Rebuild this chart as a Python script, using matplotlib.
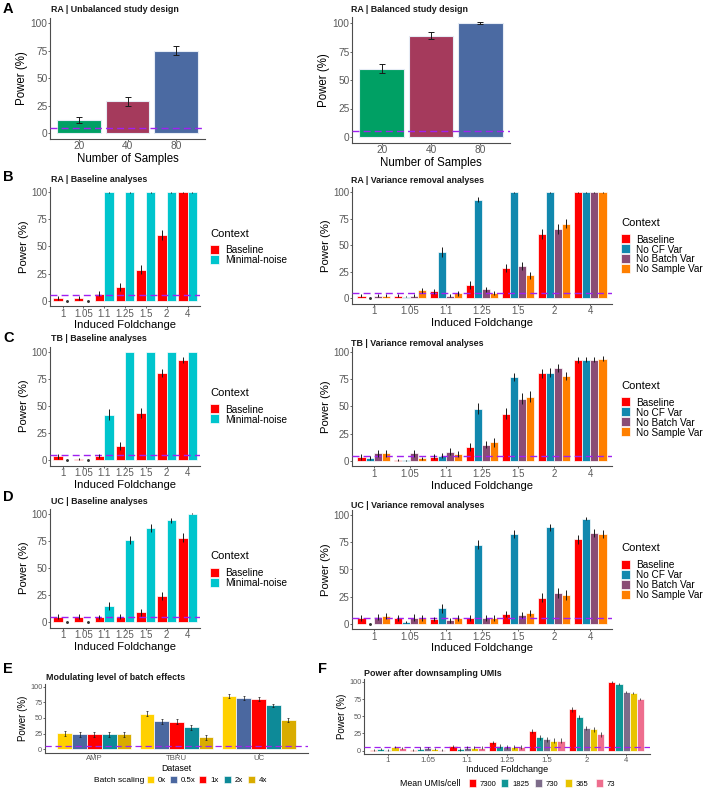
import numpy as np
import matplotlib
matplotlib.use('Agg')
import matplotlib.pyplot as plt
from matplotlib.patches import Rectangle

plt.rcParams['font.family'] = ['Liberation Sans', 'DejaVu Sans']

# ---- data ----
sample_sizes = ['20', '40', '80']
ra_unbalanced = [12, 29, 75]
ra_unbalanced_err = [3, 4, 4]
ra_balanced = [60, 89, 100]
ra_balanced_err = [4, 3, 0.5]
sample_colors = ['#00A064', '#A53A5C', '#4B6AA2']

foldchanges = ['1', '1.05', '1.1', '1.25', '1.5', '2', '4']

ra_baseline = [2.5, 2.5, 6.5, 12.5, 28.5, 60.5, 100]
ra_baseline_err = [1.5, 1.5, 2.5, 3.5, 4, 4.5, 0.3]
ra_minimal = [0, 0, 100, 100, 100, 100, 100]
ra_minimal_err = [0, 0, 0.3, 0.3, 0.3, 0.3, 0.3]
ra_nocf = [0, 1.5, 43.5, 93, 100, 100, 100]
ra_nocf_err = [0, 0.5, 4.5, 2.5, 0.3, 0.3, 0.3]
ra_nobatch = [2.5, 2.5, 2.5, 8.5, 30.5, 65.5, 100]
ra_nobatch_err = [1.5, 1.5, 1.5, 2.5, 4, 4.5, 0.3]
ra_nosample = [2.5, 7.5, 4.5, 5, 21.5, 70.5, 100]
ra_nosample_err = [1.5, 2.5, 2, 2, 3.5, 4, 0.3]

tb_baseline = [3.5, 1, 4, 13, 43.5, 80.5, 92.5]
tb_baseline_err = [2.5, 1, 2, 3.5, 5, 4, 2.5]
tb_minimal = [0, 0, 42, 100, 100, 100, 100]
tb_minimal_err = [0, 0, 5, 0.3, 0.3, 0.3, 0.3]
tb_nocf = [3, 0.5, 5, 48, 77, 81, 93]
tb_nocf_err = [2, 0.5, 2, 5, 4, 4, 2.5]
tb_nobatch = [7, 7, 8.5, 15, 57, 85.5, 93]
tb_nobatch_err = [3, 3, 3, 3.5, 5, 3.5, 2.5]
tb_nosample = [7, 2.5, 6.5, 17, 59, 78, 94]
tb_nosample_err = [3, 1.5, 3, 4, 5, 4, 2.5]

uc_baseline = [5, 5, 4.5, 5, 9, 24, 78]
uc_baseline_err = [2.5, 2.5, 2, 2.5, 3, 4, 4]
uc_minimal = [0, 0, 15, 76, 87, 94, 100]
uc_minimal_err = [0, 0, 4, 4, 3.5, 2, 0.5]
uc_nocf = [0, 1.5, 14, 73, 83, 89, 97]
uc_nocf_err = [0, 1, 4, 4, 3.5, 3, 1.5]
uc_nobatch = [6, 5.5, 3, 5, 8, 28.5, 84]
uc_nobatch_err = [3, 3, 2, 3, 3, 4.5, 3.5]
uc_nosample = [7, 5, 5, 5, 10, 26.5, 83]
uc_nosample_err = [3, 2.5, 2.5, 3, 3, 4.5, 3.5]

base_contexts = ['Baseline', 'Minimal-noise']
base_colors = ['#FF0000', '#00C5CD']
var_contexts = ['Baseline', 'No CF Var', 'No Batch Var', 'No Sample Var']
var_colors = ['#FF0000', '#1188AE', '#8A4C75', '#FF7F00']

datasets = ['AMP', 'TBRU', 'UC']
batch_scales = ['0x', '0.5x', '1x', '2x', '4x']
batch_colors = ['#FFD000', '#4B68A0', '#FF0000', '#0D8A98', '#D9AC00']
power_0x = [26, 57, 85]
power_05x = [24, 45, 82]
power_1x = [24, 44, 80]
power_2x = [24, 35, 70]
power_4x = [24, 19, 47]
batch_err = [4, 4, 3]

umi_levels = ['7300', '1825', '730', '365', '73']
umi_colors = ['#FF0000', '#109696', '#7D6C8A', '#E8C400', '#EE6E8E']
umi_7300 = [1.5, 1.5, 6, 12, 28.5, 60, 100]
umi_1825 = [2.5, 3, 2, 6.5, 19.5, 49, 97]
umi_730 = [1, 4, 4, 5, 16.5, 33, 86]
umi_365 = [5, 2.5, 4, 5, 14.5, 31, 84]
umi_73 = [4, 1.5, 4, 5, 14.5, 23.5, 75]
umi_err = [1.5, 1.5, 2, 2.5, 3.5, 3.5, 1.5]

W, H = 705, 788
fig = plt.figure(figsize=(W / 100, H / 100), dpi=100)
fig.patch.set_facecolor('white')

PURPLE = '#A020F0'
TICK_COL = '#5A5A5A'


def add_ax(x0, y0, x1, y1):
    return fig.add_axes([x0 / W, 1 - y1 / H, (x1 - x0) / W, (y1 - y0) / H])


def bars(ax, cats, series, errs, colors, width=0.9, capsize=0, elw=0.7):
    x = np.arange(len(cats))
    n = len(series)
    w = width / n
    for i in range(n):
        pos = x - width / 2 + w * (i + 0.5)
        vals = np.asarray(series[i], dtype=float)
        ax.bar(pos, vals, w, color=colors[i], edgecolor='white', linewidth=0.5, zorder=2)
        ax.errorbar(pos, vals, yerr=errs[i], fmt='none', ecolor='#1A1A1A',
                    elinewidth=elw, capsize=capsize, capthick=elw, zorder=4)
        zero = vals == 0
        if zero.any():
            ax.plot(pos[zero], vals[zero], 'o', ms=1.1, color='#333333', zorder=4)
    ax.set_xticks(x)
    ax.set_xticklabels(cats)
    ax.set_xlim(-0.6, len(cats) - 0.4)


def style(ax, xlabel, tick_fs=7, lab_fs=8, lw=1.0):
    for s in ['top', 'right']:
        ax.spines[s].set_visible(False)
    for s in ['left', 'bottom']:
        ax.spines[s].set_color('#4D4D4D')
        ax.spines[s].set_linewidth(0.8)
    ax.set_ylim(-5, 105)
    ax.set_yticks([0, 25, 50, 75, 100])
    ax.tick_params(colors='#4D4D4D', labelcolor=TICK_COL, length=1.5, width=0.6,
                   pad=0.4, labelsize=tick_fs)
    ax.axhline(5, color=PURPLE, lw=lw, ls=(0, (5, 3)), zorder=3)
    ax.set_ylabel('Power (%)', fontsize=lab_fs, labelpad=1.5)
    ax.set_xlabel(xlabel, fontsize=lab_fs, labelpad=1)


# ---- A ----
axA1 = add_ax(50, 17.5, 205, 138.5)
axA1.bar(np.arange(3), ra_unbalanced, 0.9, color=sample_colors, edgecolor='#E6ECF5', linewidth=0.8, zorder=2)
axA1.errorbar(np.arange(3), ra_unbalanced, yerr=ra_unbalanced_err, fmt='none', ecolor='#1A1A1A',
              elinewidth=0.7, capsize=2, capthick=0.7, zorder=4)
axA1.set_xticks(np.arange(3))
axA1.set_xticklabels(sample_sizes)
axA1.set_xlim(-0.6, 2.6)
style(axA1, 'Number of Samples', tick_fs=7.3, lab_fs=8.3)

axA2 = add_ax(352, 17.3, 510, 142.7)
axA2.bar(np.arange(3), ra_balanced, 0.9, color=sample_colors, edgecolor='#E6ECF5', linewidth=0.8, zorder=2)
axA2.errorbar(np.arange(3), ra_balanced, yerr=ra_balanced_err, fmt='none', ecolor='#1A1A1A',
              elinewidth=0.7, capsize=2, capthick=0.7, zorder=4)
axA2.set_xticks(np.arange(3))
axA2.set_xticklabels(sample_sizes)
axA2.set_xlim(-0.6, 2.6)
style(axA2, 'Number of Samples', tick_fs=7.3, lab_fs=8.3)

# ---- B / C / D ----
rows = [
    ((187, 306), (187, 303.5),
     [ra_baseline, ra_minimal], [ra_baseline_err, ra_minimal_err],
     [ra_baseline, ra_nocf, ra_nobatch, ra_nosample],
     [ra_baseline_err, ra_nocf_err, ra_nobatch_err, ra_nosample_err]),
    ((346.5, 465.5), (346.5, 466.5),
     [tb_baseline, tb_minimal], [tb_baseline_err, tb_minimal_err],
     [tb_baseline, tb_nocf, tb_nobatch, tb_nosample],
     [tb_baseline_err, tb_nocf_err, tb_nobatch_err, tb_nosample_err]),
    ((508.5, 627.5), (510, 629),
     [uc_baseline, uc_minimal], [uc_baseline_err, uc_minimal_err],
     [uc_baseline, uc_nocf, uc_nobatch, uc_nosample],
     [uc_baseline_err, uc_nocf_err, uc_nobatch_err, uc_nosample_err]),
]
for (ly, ry, lser, lerr, rser, rerr) in rows:
    axl = add_ax(50, ly[0], 200, ly[1])
    bars(axl, foldchanges, lser, lerr, base_colors)
    style(axl, 'Induced Foldchange', tick_fs=7, lab_fs=8.1)
    axr = add_ax(352, ry[0], 612, ry[1])
    bars(axr, foldchanges, rser, rerr, var_colors)
    style(axr, 'Induced Foldchange', tick_fs=7, lab_fs=8.1)

# ---- E ----
axE = add_ax(45, 683.5, 308, 752.5)
bars(axE, datasets, [power_0x, power_05x, power_1x, power_2x, power_4x], [batch_err] * 5,
     batch_colors, capsize=1, elw=0.5)
style(axE, 'Dataset', tick_fs=5.3, lab_fs=7, lw=0.9)
axE.xaxis.label.set_size(6.3)
axE.tick_params(axis='x', labelsize=5.6)

# ---- F ----
axF = add_ax(364, 678.5, 650, 754)
bars(axF, foldchanges, [umi_7300, umi_1825, umi_730, umi_365, umi_73], [umi_err] * 5,
     umi_colors, capsize=0, elw=0.5)
style(axF, 'Induced Foldchange', tick_fs=5.3, lab_fs=7, lw=0.9)
axF.xaxis.label.set_size(6.5)
axF.tick_params(axis='x', labelsize=5.6)

# ---- overlay: letters, titles, legends ----
ov = fig.add_axes([0, 0, 1, 1], zorder=10)
ov.set_xlim(0, W)
ov.set_ylim(H, 0)
ov.axis('off')

for letter, x, y in [('A', 3, 9), ('B', 3, 177), ('C', 3, 338), ('D', 3, 497), ('E', 3, 669), ('F', 318, 669)]:
    ov.text(x, y, letter, fontsize=10.5, fontweight='bold', va='center', ha='left')

titles = [
    ('RA | Unbalanced study design', 51, 9),
    ('RA | Balanced study design', 351, 9),
    ('RA | Baseline analyses', 51, 179),
    ('RA | Variance removal analyses', 351, 180),
    ('TB | Baseline analyses', 51, 338),
    ('TB | Variance removal analyses', 351, 343),
    ('UC | Baseline analyses', 51, 501),
    ('UC | Variance removal analyses', 351, 505),
    ('Modulating level of batch effects', 46, 677),
    ('Power after downsampling UMIs', 364, 673),
]
for t, x, y in titles:
    ov.text(x, y, t, fontsize=6.4, fontweight='bold', va='center', ha='left', color='#1A1A1A')


def vlegend(x, ytitle, yfirst, labels, colors, step=10):
    ov.text(x, ytitle, 'Context', fontsize=8, va='center', ha='left')
    for i, (lab, c) in enumerate(zip(labels, colors)):
        y = yfirst + i * step
        ov.add_patch(Rectangle((x, y - 4.5), 9, 9, facecolor=c, edgecolor='white', lw=0.5))
        ov.text(x + 15, y, lab, fontsize=7.2, va='center_baseline', ha='left')


vlegend(210, 234, 249, base_contexts, base_colors)
vlegend(210, 393, 408.5, base_contexts, base_colors)
vlegend(210, 556, 572, base_contexts, base_colors)
vlegend(621, 223, 238.5, var_contexts, var_colors)
vlegend(621, 386, 401.7, var_contexts, var_colors)
vlegend(621, 548, 564, var_contexts, var_colors)


def hlegend(x, y, title, keys_x, labels, colors, fs_title, fs_lab, kw=7, kh=7):
    ov.text(x, y, title, fontsize=fs_title, va='center_baseline', ha='left')
    for kx, lab, c in zip(keys_x, labels, colors):
        ov.add_patch(Rectangle((kx, y - kh / 2), kw, kh, facecolor=c, edgecolor='white', lw=0.4))
        ov.text(kx + kw + 4, y, lab, fontsize=fs_lab, va='center_baseline', ha='left')


hlegend(94, 779, 'Batch scaling', [147, 170, 199, 224, 248], batch_scales, batch_colors, 6, 5.7)
hlegend(400, 783, 'Mean UMIs/cell', [469, 501, 535, 565, 596], umi_levels, umi_colors, 6.3, 5.5, kw=7, kh=8)

fig.savefig('out.png', dpi=100, facecolor='white')
